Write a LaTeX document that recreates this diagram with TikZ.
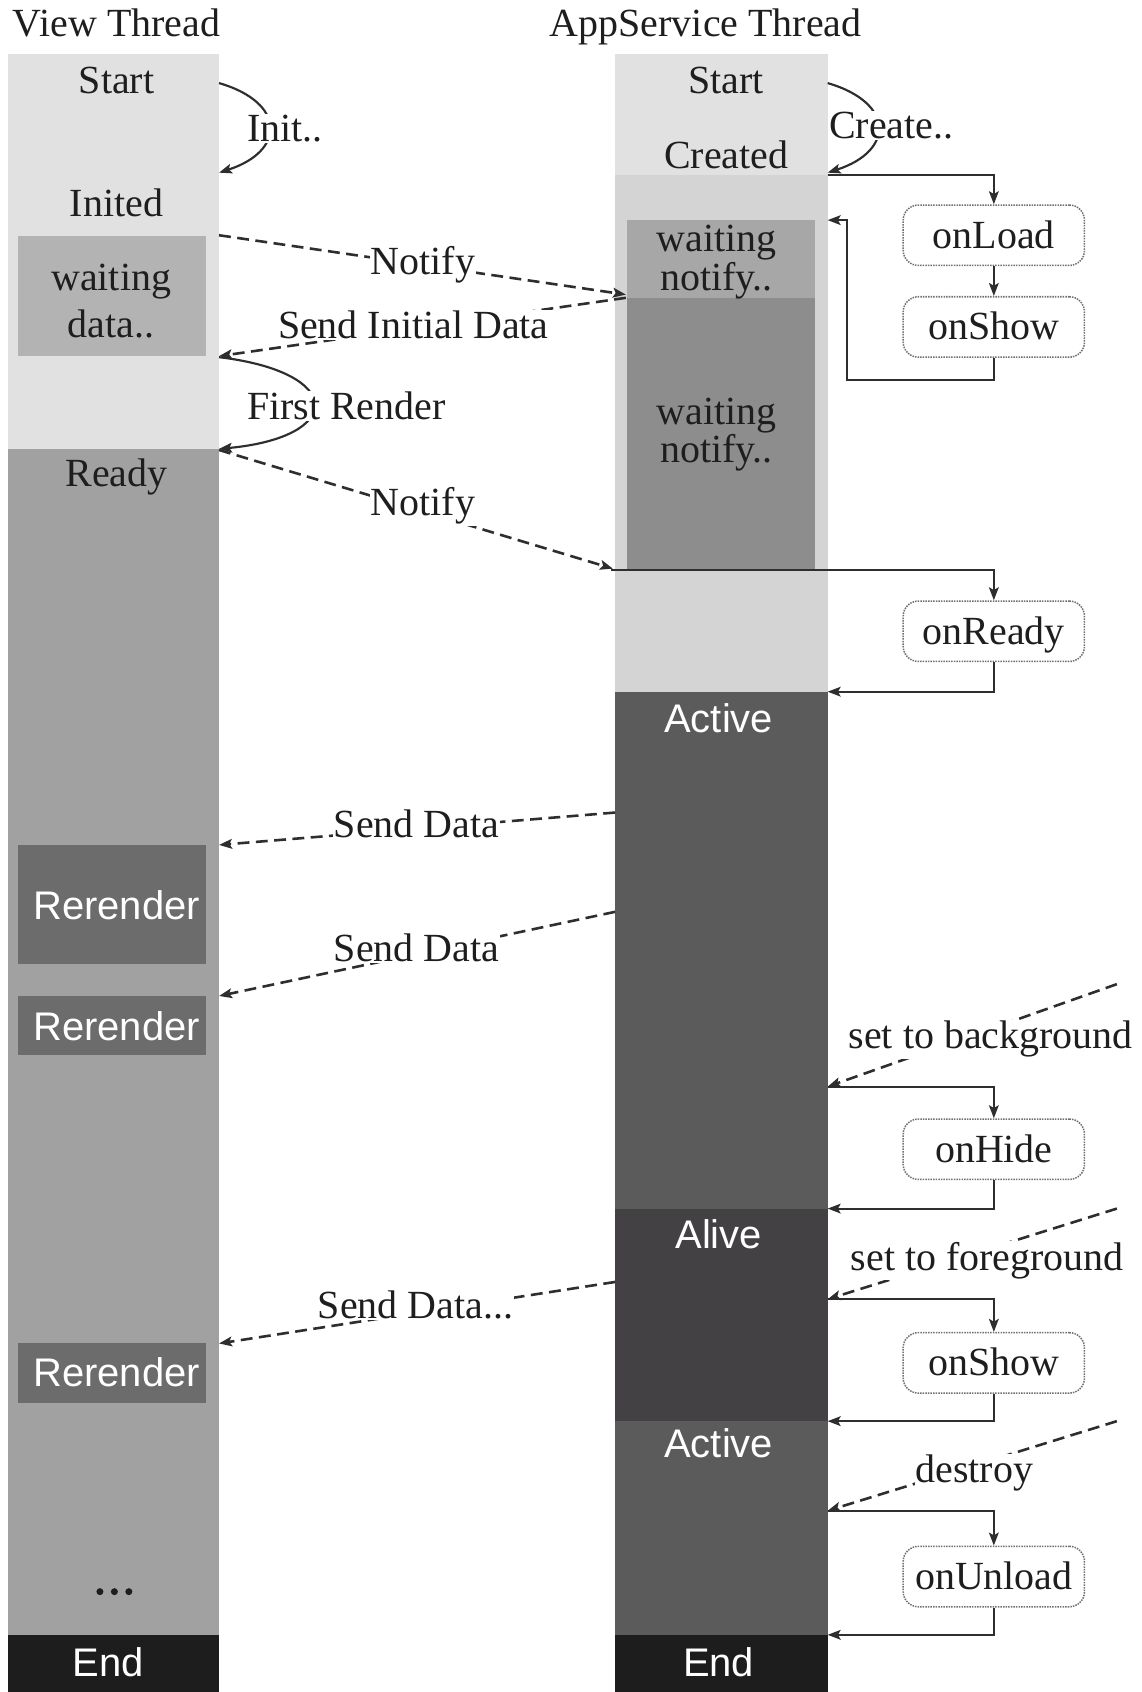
\documentclass[tikz,border=0pt]{standalone}
\usepackage{fontspec}
\setmainfont{Liberation Serif}
\setsansfont{Liberation Sans}
\usetikzlibrary{arrows.meta}

\definecolor{inkc}{HTML}{1E1E1E}
\definecolor{linec}{HTML}{2E2E2E}
\definecolor{palegray}{HTML}{E1E1E1}
\definecolor{loadgray}{HTML}{D4D4D4}
\definecolor{waitgray}{HTML}{B3B3B3}
\definecolor{notifygray}{HTML}{A7A7A7}
\definecolor{notifydark}{HTML}{8D8D8D}
\definecolor{readygray}{HTML}{A1A1A1}
\definecolor{rerendergray}{HTML}{6C6C6C}
\definecolor{activegray}{HTML}{5B5B5B}
\definecolor{alivegray}{HTML}{444144}
\definecolor{endblack}{HTML}{1D1D1D}
\definecolor{boxedge}{HTML}{707070}

\begin{document}
\begin{tikzpicture}[x=1pt,y=-1pt,
  band/.style={draw=none, inner sep=0pt, outer sep=0pt, anchor=north west},
  txt/.style={font=\fontsize{37}{38}\selectfont, text=inkc, inner sep=0pt, anchor=base},
  wtxt/.style={font=\sffamily\fontsize{37}{38}\selectfont, text=white, inner sep=0pt, anchor=base},
  lbl/.style={txt, fill=white, inner sep=1pt},
  tip/.style={-{Stealth[length=12pt,width=9pt,inset=2.5pt]}},
  flow/.style={draw=linec, line width=2pt, tip},
  msg/.style={draw=linec, line width=2.4pt, dash pattern=on 11pt off 6pt, tip},
  cb/.style={draw=boxedge, densely dotted, line width=1.4pt, rounded corners=14pt,
    fill=white, minimum width=168pt, minimum height=56pt, inner sep=0pt,
    font=\fontsize{37}{38}\selectfont, text=inkc, text height=24pt, text depth=0pt},
  dot/.style={fill=inkc, draw=none, circle, inner sep=0pt, minimum size=6.5pt}
]
\useasboundingbox (0,0) rectangle (1058,1568);

% ---------- View thread column ----------
\node[band, fill=palegray, minimum width=196pt, minimum height=112pt] (vStart) at (7,50) {};
\node[band, fill=palegray, minimum width=196pt, minimum height=254pt] (vInited) at (7,162) {};
\node[band, fill=waitgray, minimum width=174pt, minimum height=111pt] (vWait) at (17,219) {};
\node[band, fill=readygray, minimum width=196pt, minimum height=1099pt] (vReady) at (7,416) {};
\node[band, fill=rerendergray, minimum width=174pt, minimum height=110pt] (vRr1) at (17,783) {};
\node[band, fill=rerendergray, minimum width=174pt, minimum height=55pt] (vRr2) at (17,923) {};
\node[band, fill=rerendergray, minimum width=174pt, minimum height=55pt] (vRr3) at (17,1245) {};
\node[band, fill=endblack, minimum width=196pt, minimum height=53pt] (vEnd) at (7,1515) {};

% ---------- AppService thread column ----------
\node[band, fill=palegray, minimum width=197pt, minimum height=112pt] (aStart) at (570,50) {};
\node[band, fill=loadgray, minimum width=197pt, minimum height=479pt] (aLoad) at (570,162) {};
\node[band, fill=notifygray, minimum width=174pt, minimum height=72pt] (aWait1) at (581,204) {};
\node[band, fill=notifydark, minimum width=174pt, minimum height=252pt] (aWait2) at (581,276) {};
\node[band, fill=activegray, minimum width=197pt, minimum height=479pt] (aActive1) at (570,641) {};
\node[band, fill=alivegray, minimum width=197pt, minimum height=197pt] (aAlive) at (570,1120) {};
\node[band, fill=activegray, minimum width=197pt, minimum height=198pt] (aActive2) at (570,1317) {};
\node[band, fill=endblack, minimum width=197pt, minimum height=53pt] (aEnd) at (570,1515) {};

% ---------- titles and state names ----------
\node[txt] (tView) at (108,34) {View Thread};
\node[txt] (tApp) at (654,34) {AppService Thread};

\node[txt] (vStartT) at (108,87) {Start};
\node[txt] (vInitedT) at (108,201) {Inited};
\node[txt] (vWaitT1) at (103,269) {waiting};
\node[txt] (vWaitT2) at (103,313) {data..};
\node[txt] (vReadyT) at (108,451) {Ready};
\node[wtxt] (vRr1T) at (108,852) {Rerender};
\node[wtxt] (vRr2T) at (108,964) {Rerender};
\node[wtxt] (vRr3T) at (108,1285) {Rerender};
\node[dot] (vDot1) at (92.6,1475) {};
\node[dot] (vDot2) at (106,1475) {};
\node[dot] (vDot3) at (119.4,1475) {};
\node[wtxt] (vEndT) at (100,1554) {End};

\node[txt] (aStartT) at (673,87) {Start};
\node[txt] (aCreatedT) at (673,156) {Created};
\node[txt] (aWait1T1) at (664,233) {waiting};
\node[txt] (aWait1T2) at (664,269) {notify..};
\node[txt] (aWait2T1) at (664,393) {waiting};
\node[txt] (aWait2T2) at (664,429) {notify..};
\node[wtxt] (aActive1T) at (666,679) {Active};
\node[wtxt] (aAliveT) at (666,1157) {Alive};
\node[wtxt] (aActive2T) at (666,1351) {Active};
\node[wtxt] (aEndT) at (666,1554) {End};

% ---------- lifecycle callbacks ----------
\node[cb] (onLoad) at (921,218) {onLoad};
\node[cb] (onShowA) at (921,303) {onShow};
\node[cb] (onReady) at (921,585) {onReady};
\node[cb] (onHide) at (921,1065) {onHide};
\node[cb] (onShowB) at (921,1263) {onShow};
\node[cb] (onUnload) at (921,1461) {onUnload};

% ---------- connector end points ----------
\coordinate (vInitA) at (203,77);
\coordinate (vInitB) at (203,160);
\coordinate (aCreA) at (767,77);
\coordinate (aCreB) at (767,160);
\coordinate (vNotA) at (203,218);
\coordinate (aNotB) at (580,273);
\coordinate (aSidA) at (580,276);
\coordinate (vSidB) at (203,330);
\coordinate (vFrA) at (203,331);
\coordinate (vFrB) at (203,416);
\coordinate (vNrA) at (203,417);
\coordinate (aNrB) at (568,527);
\coordinate (aReadyOut) at (566,528);
\coordinate (aActIn) at (767,641);
\coordinate (aLoadOut) at (767,162);
\coordinate (aBackTurn) at (785,352);
\coordinate (aBackIn) at (767,204);
\coordinate (aSd1A) at (570,753);
\coordinate (vSd1B) at (203,783);
\coordinate (aSd2A) at (570,845);
\coordinate (vSd2B) at (203,923);
\coordinate (aSd3A) at (570,1188);
\coordinate (vSd3B) at (203,1245);
\coordinate (bgFrom) at (1035,912);
\coordinate (aBgIn) at (767,1007);
\coordinate (aHideBack) at (767,1120);
\coordinate (fgFrom) at (1035,1120);
\coordinate (aFgIn) at (767,1204);
\coordinate (aShowBack) at (767,1317);
\coordinate (dsFrom) at (1035,1317);
\coordinate (aDsIn) at (767,1400);
\coordinate (aUnloadBack) at (767,1515);

% ---------- in-thread transitions ----------
\draw[flow] (vInitA) .. controls (265,95) and (265,140) .. (vInitB);
\draw[flow] (aCreA) .. controls (829,95) and (829,140) .. (aCreB);
\draw[flow] (vFrA) .. controls (320,345) and (320,405) .. (vFrB);

\draw[flow] (aLoadOut) -| (onLoad.north);
\draw[flow] (onLoad.south) -- (onShowA.north);
\draw[flow] (onShowA.south) |- (aBackTurn) |- (aBackIn);
\draw[flow] (aReadyOut) -| (onReady.north);
\draw[flow] (onReady.south) |- (aActIn);
\draw[flow] (aBgIn) -| (onHide.north);
\draw[flow] (onHide.south) |- (aHideBack);
\draw[flow] (aFgIn) -| (onShowB.north);
\draw[flow] (onShowB.south) |- (aShowBack);
\draw[flow] (aDsIn) -| (onUnload.north);
\draw[flow] (onUnload.south) |- (aUnloadBack);

% ---------- messages between threads ----------
\draw[msg] (vNotA) -- (aNotB);
\draw[msg] (aSidA) -- (vSidB);
\draw[msg] (vNrA) -- (aNrB);
\draw[msg] (aSd1A) -- (vSd1B);
\draw[msg] (aSd2A) -- (vSd2B);
\draw[msg] (aSd3A) -- (vSd3B);
\draw[msg] (bgFrom) -- (aBgIn);
\draw[msg] (fgFrom) -- (aFgIn);
\draw[msg] (dsFrom) -- (aDsIn);

% ---------- labels ----------
\node[lbl] (lInit) at (264,131) {Init..};
\node[lbl] (lCreate) at (826,128) {Create..};
\node[lbl] (lNotify1) at (392,254) {Notify};
\node[lbl] (lSid) at (383,314) {Send Initial Data};
\node[lbl] (lFirst) at (321,389) {First Render};
\node[lbl] (lNotify2) at (392,478) {Notify};
\node[lbl] (lSd1) at (386,776) {Send Data};
\node[lbl] (lSd2) at (386,891) {Send Data};
\node[lbl] (lSd3) at (385,1222) {Send Data...};
\node[lbl] (lBg) at (918,972) {set to background};
\node[lbl] (lFg) at (915,1177) {set to foreground};
\node[lbl] (lDs) at (903,1374) {destroy};
\end{tikzpicture}
\end{document}
